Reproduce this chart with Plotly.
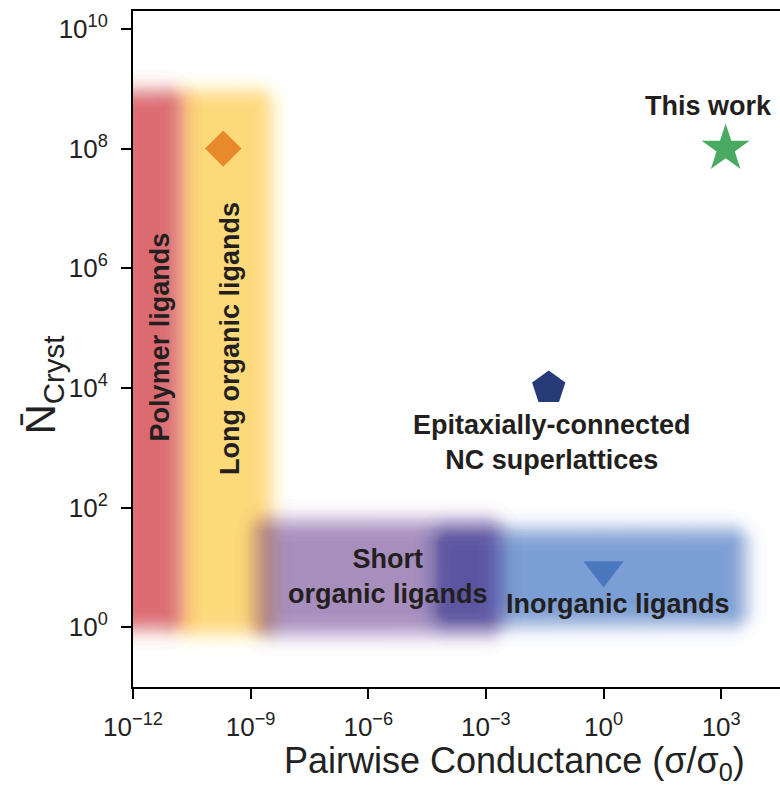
import math
from statistics import NormalDist

import numpy as np
import plotly.graph_objects as go

# ---------------- data ----------------
# Shaded regions (ligand classes): conductance span and crystallite-count span
band_names = ["Long organic ligands", "Polymer ligands", "Inorganic ligands", "Short organic ligands"]
band_x_lo = [1.3e-11, 4.0e-13, 5.0e-5, 1.4e-9]
band_x_hi = [3.2e-9, 1.7e-11, 4.0e3, 2.3e-3]
band_y_lo = [0.8, 0.95, 1.1, 0.75]
band_y_hi = [9.0e8, 9.0e8, 42.0, 62.0]
band_rgb = [(252, 217, 118), (220, 100, 108), (112, 150, 210), (45, 0, 105)]
band_alpha = [0.97, 0.95, 0.9, 0.40]

# Individual systems
point_names = ["Long organic ligands", "This work", "Epitaxially-connected NC superlattices", "Inorganic ligands"]
point_x = [2.0e-10, 1.3e3, 0.04, 1.0]
point_y = [1.0e8, 1.0e8, 1.0e4, 9.0]
point_symbol = ["diamond", "star", "pentagon", "triangle-down"]
point_size = [28, 36, 35, 35]
point_color = ["#E88A2B", "#4BAA62", "#273A78", "#4A78BE"]

# Labels
label_text = ["Polymer ligands", "Long organic ligands", "This work",
              "Epitaxially-connected<br>NC superlattices", "Short<br>organic ligands", "Inorganic ligands"]
label_x = [4.9e-12, 3.0e-10, 470.0, 0.049, 3.2e-6, 2.3]
label_y = [7.0e4, 6.6e4, 5.1e8, 1.2e3, 6.9, 2.4]
label_angle = [-90, -90, 0, 0, 0, 0]

# Axis ticks and titles
x_tick_vals = [1e-12, 1e-9, 1e-6, 1e-3, 1e0, 1e3]
x_tick_text = ["10<sup>−12</sup>", "10<sup>−9</sup>", "10<sup>−6</sup>", "10<sup>−3</sup>",
               "10<sup>0</sup>", "10<sup>3</sup>"]
y_tick_vals = [1e0, 1e2, 1e4, 1e6, 1e8, 1e10]
y_tick_text = ["10<sup>0</sup>", "10<sup>2</sup>", "10<sup>4</sup>", "10<sup>6</sup>",
               "10<sup>8</sup>", "10<sup>10</sup>"]
x_title = "Pairwise Conductance (σ/σ<sub>0</sub>)"
y_title = "N\u0304<sub>Cryst</sub>"

# ---------------- layout geometry ----------------
W, H = 780, 786
M_L, M_R, M_T, M_B = 133, 0, 11, 99
X_RANGE = [-12.0, 4.5]     # log10 units
Y_RANGE = [-1.0, 10.3]
px_per_dec_x = (W - M_L - M_R) / (X_RANGE[1] - X_RANGE[0])
px_per_dec_y = (H - M_T - M_B) / (Y_RANGE[1] - Y_RANGE[0])

FONT = "Liberation Sans, Arial, sans-serif"
TEXT_COLOR = "#231F20"
AXIS_TEXT = "#222222"


def rounded_rect(x0, x1, y0, y1, r, n=10):
    """Rounded rectangle outline in screen-pixel units."""
    r = max(min(r, (x1 - x0) / 2, (y1 - y0) / 2), 0.5)
    corners = [(x1 - r, y1 - r, 0.0), (x0 + r, y1 - r, 0.5 * math.pi),
               (x0 + r, y0 + r, math.pi), (x1 - r, y0 + r, 1.5 * math.pi)]
    xs, ys = [], []
    for cx, cy, a0 in corners:
        t = np.linspace(a0, a0 + 0.5 * math.pi, n)
        xs.extend(cx + r * np.cos(t))
        ys.extend(cy + r * np.sin(t))
    xs.append(xs[0])
    ys.append(ys[0])
    return np.array(xs), np.array(ys)


fig = go.Figure()

# Soft-edged regions: stacked translucent rounded rectangles.  Outlines are
# spaced on Gaussian quantiles and each layer's alpha is chosen so the
# accumulated opacity rises linearly with the layer count -> Gaussian-like edge.
N_LAYERS = 30
SIGMA = 10.0     # px
RADIUS = 16.0    # px
nd = NormalDist()
offsets = sorted((SIGMA * nd.inv_cdf((k + 0.5) / N_LAYERS) for k in range(N_LAYERS)),
                 reverse=True)

for name, xl, xh, yl, yh, rgb, A in zip(band_names, band_x_lo, band_x_hi, band_y_lo,
                                         band_y_hi, band_rgb, band_alpha):
    X0, X1 = math.log10(xl) * px_per_dec_x, math.log10(xh) * px_per_dec_x
    Y0, Y1 = math.log10(yl) * px_per_dec_y, math.log10(yh) * px_per_dec_y
    prev = 0.0
    for n, d in enumerate(offsets, start=1):
        target = A * n / N_LAYERS
        a = 1 - (1 - target) / (1 - prev)
        prev = target
        fill = f"rgba({rgb[0]},{rgb[1]},{rgb[2]},{a:.4f})"
        px, py = rounded_rect(X0 - d, X1 + d, Y0 - d, Y1 + d, RADIUS + d)
        fig.add_trace(go.Scatter(
            x=10 ** (px / px_per_dec_x), y=10 ** (py / px_per_dec_y),
            mode="lines", fill="toself", fillcolor=fill,
            line=dict(width=0), hoverinfo="skip", showlegend=False, name=name,
        ))

# Individual data points
for name, x, y, sym, sz, col in zip(point_names, point_x, point_y, point_symbol,
                                    point_size, point_color):
    fig.add_trace(go.Scatter(
        x=[x], y=[y], mode="markers", name=name, showlegend=False,
        marker=dict(symbol=sym, size=sz, color=col, line=dict(width=0)),
    ))

# Text labels
for txt, x, y, ang in zip(label_text, label_x, label_y, label_angle):
    fig.add_annotation(
        x=math.log10(x), y=math.log10(y), xref="x", yref="y",
        text=f"<b>{txt}</b>", showarrow=False, textangle=ang,
        font=dict(family=FONT, size=27, color=TEXT_COLOR),
        align="center",
    )

# Axis titles
fig.add_annotation(
    x=0.59, y=-0.112, xref="paper", yref="paper", xanchor="center", yanchor="middle",
    text=x_title, showarrow=False, font=dict(family=FONT, size=36, color=AXIS_TEXT),
)
fig.add_annotation(
    x=-0.138, y=0.447, xref="paper", yref="paper", xanchor="center", yanchor="middle",
    text=y_title, showarrow=False, textangle=-90,
    font=dict(family=FONT, size=42, color=AXIS_TEXT),
)

axis_common = dict(
    type="log", showgrid=False, zeroline=False,
    showline=True, linecolor="black", linewidth=2,
    ticks="outside", ticklen=10, tickwidth=2, tickcolor="black",
    tickfont=dict(family=FONT, size=26, color=AXIS_TEXT),
    tickmode="array",
)

fig.update_layout(
    width=W, height=H,
    margin=dict(l=M_L, r=M_R, t=M_T, b=M_B, autoexpand=False),
    paper_bgcolor="white", plot_bgcolor="white",
    xaxis=dict(**axis_common, range=X_RANGE, mirror=True,
               tickvals=x_tick_vals, ticktext=x_tick_text, ticklabelstandoff=6),
    yaxis=dict(**axis_common, range=Y_RANGE, mirror=False,
               tickvals=y_tick_vals, ticktext=y_tick_text, ticklabelstandoff=8),
)

fig.write_html("out.html")
